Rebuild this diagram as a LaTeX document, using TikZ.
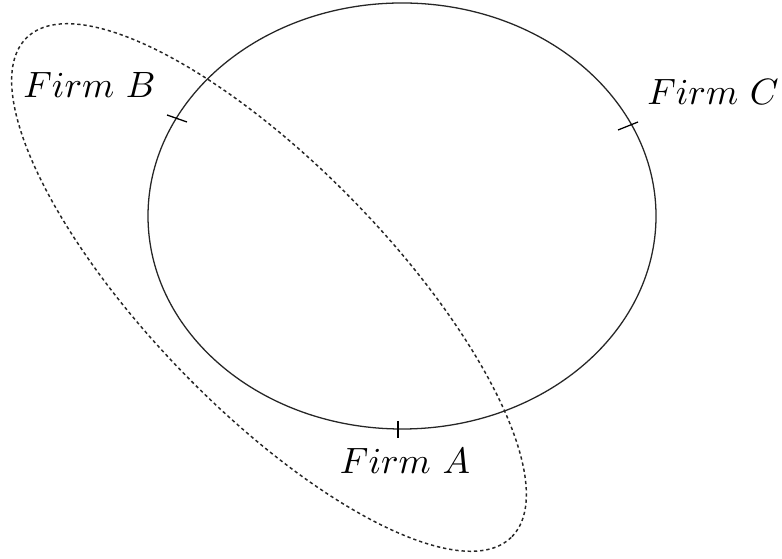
\documentclass[tikz,border=0pt]{standalone}
\begin{document}
\begin{tikzpicture}[x=0.273pt,y=-0.273pt,
  solidline/.style={line width=0.35pt,black!85},
  dashline/.style={line width=0.4pt,black!85,dash pattern=on 0.9pt off 0.8pt},
  ticksty/.style={line width=0.35pt,black},
  lab/.style={anchor=base,inner sep=0pt,font=\fontsize{9.6}{11.5}\selectfont}]
\useasboundingbox (0,0) rectangle (782,559);
\fill[white] (0,0) rectangle (782,559);
% solid ellipse
\draw[solidline] (402,216) ellipse [x radius=254, y radius=213];
% dashed ellipse
\draw[dashline, shift={(269,287.5)}, rotate=-45.9] (0,0) ellipse [x radius=348, y radius=121];
% tick marks
\coordinate (b1) at (167,115); \coordinate (b2) at (187,122);
\coordinate (c1) at (618,130); \coordinate (c2) at (638,122);
\coordinate (a1) at (398,421); \coordinate (a2) at (398,438);
\draw[ticksty] (b1) -- (b2);
\draw[ticksty] (c1) -- (c2);
\draw[ticksty] (a1) -- (a2);
% labels
\node[lab] (firmB) at (89.5,98) {$Firm\ B$};
\node[lab] (firmC) at (713,105) {$Firm\ C$};
\node[lab] (firmA) at (405,473) {$Firm\ A$};
\end{tikzpicture}
\end{document}
